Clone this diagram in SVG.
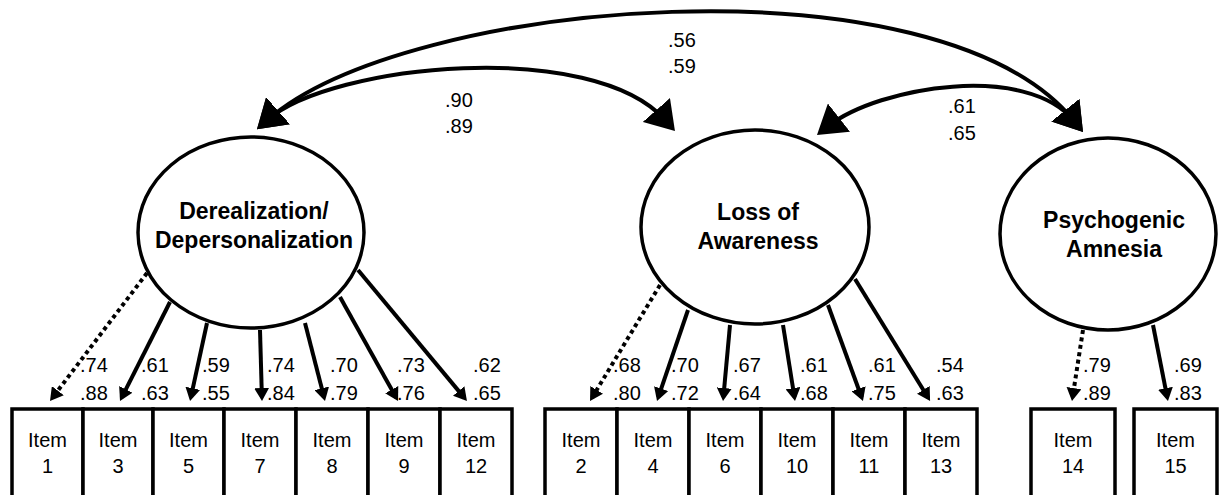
<svg xmlns="http://www.w3.org/2000/svg" width="1219" height="495" viewBox="0 0 1219 495">
<style>
  .lat { fill: #fff; stroke: #000; stroke-width: 3.5; }
  .box { fill: #fff; stroke: #000; stroke-width: 3.5; }
  .lname { font-family: "Liberation Sans", Arial, sans-serif; font-weight: bold; font-size: 23px; text-anchor: middle; fill: #000; }
  .itm { font-family: "Liberation Sans", Arial, sans-serif; font-size: 20px; text-anchor: middle; fill: #000; }
  .num { font-family: "Liberation Sans", Arial, sans-serif; font-size: 20px; fill: #000; }
  .cov { fill: none; stroke: #000; stroke-width: 4; marker-start: url(#big); marker-end: url(#big); }
  .load { fill: none; stroke: #000; stroke-width: 4; marker-end: url(#small); }
  .dot { stroke-dasharray: 4 3.5; }
</style>
<defs>
  <marker id="big" viewBox="0 -18 28 36" markerWidth="28" markerHeight="36" refX="14" refY="0" orient="auto-start-reverse" markerUnits="userSpaceOnUse">
    <path d="M0,-18 L28,0 L0,18 z" fill="#000"/>
  </marker>
  <marker id="small" viewBox="0 -7.5 13 15" markerWidth="13" markerHeight="15" refX="9" refY="0" orient="auto" markerUnits="userSpaceOnUse">
    <path d="M0,-7.5 L13,0 L0,7.5 z" fill="#000"/>
  </marker>
</defs>

<g id="connectors">
  <path class="cov" d="M267.5,120 C331.25,63.9 593.1,38 665.7,120.5"/>
  <path class="cov" d="M267.5,120 C406.25,-2.1 938.75,-46.6 1074.2,121.1"/>
  <path class="cov" d="M828,126.3 C879.35,86 1026.95,62.6 1074.2,121.1"/>

  <path class="load dot" d="M147,273 L52.4,397.8"/>
  <path class="load" d="M170,302 L121.8,397.4"/>
  <path class="load" d="M207,323 L190.9,397.1"/>
  <path class="load" d="M260,330 L261.9,397"/>
  <path class="load" d="M305,323 L324,397.1"/>
  <path class="load" d="M340,297 L396.1,397.5"/>
  <path class="load" d="M358,270 L464.4,397.9"/>

  <path class="load dot" d="M660,285 L592.1,397.6"/>
  <path class="load" d="M688,310 L658.3,397.2"/>
  <path class="load" d="M730,325 L723.4,397"/>
  <path class="load" d="M783,325 L794.4,397"/>
  <path class="load" d="M828,305 L861.6,397.2"/>
  <path class="load" d="M855,279 L928,397.5"/>

  <path class="load dot" d="M1083,330 L1072.6,397"/>
  <path class="load" d="M1153,325 L1167.2,397.1"/>

  <text class="num" x="668" y="47">.56</text>
  <text class="num" x="668" y="73">.59</text>
  <text class="num" x="445" y="107">.90</text>
  <text class="num" x="445" y="133">.89</text>
  <text class="num" x="948" y="113">.61</text>
  <text class="num" x="948" y="140">.65</text>

  <text class="num" x="80" y="372">.74</text><text class="num" x="80" y="400">.88</text>
  <text class="num" x="141" y="372">.61</text><text class="num" x="141" y="400">.63</text>
  <text class="num" x="202" y="372">.59</text><text class="num" x="202" y="400">.55</text>
  <text class="num" x="267" y="372">.74</text><text class="num" x="267" y="400">.84</text>
  <text class="num" x="330" y="372">.70</text><text class="num" x="330" y="400">.79</text>
  <text class="num" x="397" y="372">.73</text><text class="num" x="397" y="400">.76</text>
  <text class="num" x="473" y="372">.62</text><text class="num" x="473" y="400">.65</text>

  <text class="num" x="613" y="372">.68</text><text class="num" x="613" y="400">.80</text>
  <text class="num" x="671" y="372">.70</text><text class="num" x="671" y="400">.72</text>
  <text class="num" x="733" y="372">.67</text><text class="num" x="733" y="400">.64</text>
  <text class="num" x="800" y="372">.61</text><text class="num" x="800" y="400">.68</text>
  <text class="num" x="868" y="372">.61</text><text class="num" x="868" y="400">.75</text>
  <text class="num" x="936" y="372">.54</text><text class="num" x="936" y="400">.63</text>

  <text class="num" x="1083" y="372">.79</text><text class="num" x="1083" y="400">.89</text>
  <text class="num" x="1174" y="372">.69</text><text class="num" x="1174" y="400">.83</text>
</g>

<g id="f-derealization">
  <ellipse class="lat" cx="251" cy="232.5" rx="113" ry="95.5"/>
  <text class="lname" x="254" y="219">Derealization/</text>
  <text class="lname" x="254" y="248">Depersonalization</text>
</g>
<g id="f-loss">
  <ellipse class="lat" cx="755" cy="227" rx="114" ry="97"/>
  <text class="lname" x="758" y="220">Loss of</text>
  <text class="lname" x="758" y="249">Awareness</text>
</g>
<g id="f-amnesia">
  <ellipse class="lat" cx="1108" cy="234" rx="108" ry="96"/>
  <text class="lname" x="1114" y="228">Psychogenic</text>
  <text class="lname" x="1114" y="257">Amnesia</text>
</g>

<g id="item1"><rect class="box" x="12" y="409" width="71" height="100"/><text class="itm" x="47.5" y="447">Item</text><text class="itm" x="47.5" y="473">1</text></g>
<g id="item3"><rect class="box" x="83" y="409" width="70" height="100"/><text class="itm" x="118" y="447">Item</text><text class="itm" x="118" y="473">3</text></g>
<g id="item5"><rect class="box" x="153" y="409" width="71" height="100"/><text class="itm" x="188.5" y="447">Item</text><text class="itm" x="188.5" y="473">5</text></g>
<g id="item7"><rect class="box" x="224" y="409" width="72" height="100"/><text class="itm" x="260" y="447">Item</text><text class="itm" x="260" y="473">7</text></g>
<g id="item8"><rect class="box" x="296" y="409" width="72" height="100"/><text class="itm" x="332" y="447">Item</text><text class="itm" x="332" y="473">8</text></g>
<g id="item9"><rect class="box" x="368" y="409" width="72" height="100"/><text class="itm" x="404" y="447">Item</text><text class="itm" x="404" y="473">9</text></g>
<g id="item12"><rect class="box" x="440" y="409" width="72" height="100"/><text class="itm" x="476" y="447">Item</text><text class="itm" x="476" y="473">12</text></g>

<g id="item2"><rect class="box" x="545" y="409" width="72" height="100"/><text class="itm" x="581" y="447">Item</text><text class="itm" x="581" y="473">2</text></g>
<g id="item4"><rect class="box" x="617" y="409" width="72" height="100"/><text class="itm" x="653" y="447">Item</text><text class="itm" x="653" y="473">4</text></g>
<g id="item6"><rect class="box" x="689" y="409" width="72" height="100"/><text class="itm" x="725" y="447">Item</text><text class="itm" x="725" y="473">6</text></g>
<g id="item10"><rect class="box" x="761" y="409" width="72" height="100"/><text class="itm" x="797" y="447">Item</text><text class="itm" x="797" y="473">10</text></g>
<g id="item11"><rect class="box" x="833" y="409" width="72" height="100"/><text class="itm" x="869" y="447">Item</text><text class="itm" x="869" y="473">11</text></g>
<g id="item13"><rect class="box" x="905" y="409" width="72" height="100"/><text class="itm" x="941" y="447">Item</text><text class="itm" x="941" y="473">13</text></g>

<g id="item14"><rect class="box" x="1031" y="409" width="84" height="100"/><text class="itm" x="1073" y="447">Item</text><text class="itm" x="1073" y="473">14</text></g>
<g id="item15"><rect class="box" x="1134" y="409" width="83" height="100"/><text class="itm" x="1175.5" y="447">Item</text><text class="itm" x="1175.5" y="473">15</text></g>
</svg>
